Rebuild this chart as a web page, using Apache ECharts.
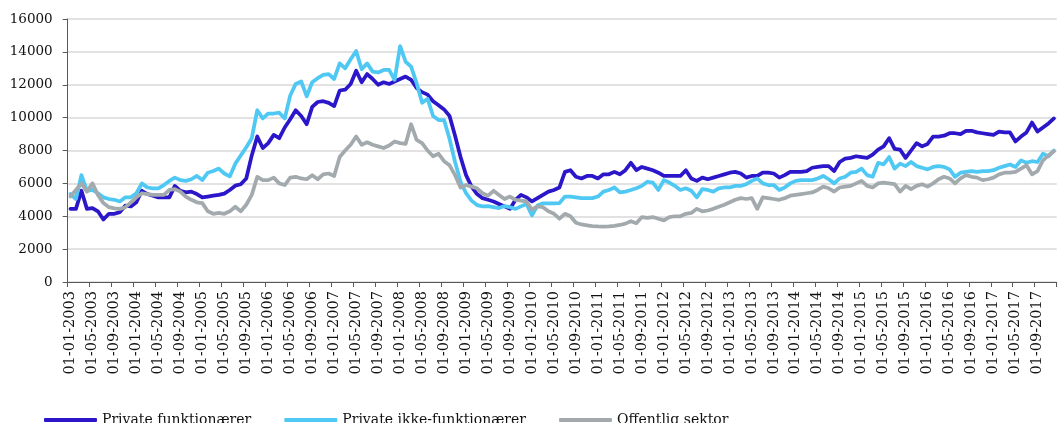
<!DOCTYPE html>
<html><head><meta charset="utf-8">
<script src="https://cdn.jsdelivr.net/npm/echarts@6/dist/echarts.min.js"></script>
<style>html,body{margin:0;padding:0;background:#fff}#c{width:1058px;height:423px}</style>
</head><body><div id="c"></div>
<script>
// Monthly categories 01-01-2003 .. 01-12-2017
const startYear = 2003, monthCount = 180;
const categories = [];
for (let k = 0; k < monthCount; k++) {
  const m = k % 12 + 1, y = startYear + Math.floor(k / 12);
  categories.push('01-' + String(m).padStart(2, '0') + '-' + y);
}
const seriesNames = ['Private funktionærer', 'Private ikke-funktionærer', 'Offentlig sektor'];
const yTicks = [0, 2000, 4000, 6000, 8000, 10000, 12000, 14000, 16000];

const privateFunktionaerer = [
  4450,4450,5550,4450,4500,4300,3800,4150,4150,4250,4650,4600,
  4850,5550,5350,5250,5150,5150,5150,5850,5550,5450,5500,5350,
  5150,5200,5250,5300,5380,5600,5860,5950,6300,7700,8850,8150,
  8450,8950,8750,9400,9900,10450,10100,9600,10650,10950,11000,10900,
  10700,11650,11700,12050,12850,12150,12650,12350,12000,12150,12050,12200,
  12350,12500,12300,11800,11550,11400,11000,10750,10500,10100,8900,7600,
  6500,5800,5350,5100,5000,4900,4750,4600,4450,5000,5300,5150,
  4900,5100,5300,5500,5600,5750,6700,6800,6400,6300,6450,6450,
  6300,6550,6550,6700,6550,6800,7250,6800,7000,6900,6800,6650,
  6450,6450,6450,6450,6800,6300,6150,6350,6250,6350,6450,6550,
  6650,6700,6600,6350,6450,6450,6650,6650,6600,6350,6500,6700,
  6700,6700,6750,6950,7000,7050,7050,6750,7300,7500,7550,7650,
  7600,7550,7750,8050,8250,8750,8100,8050,7550,8000,8450,8250,
  8400,8850,8850,8900,9050,9050,9000,9200,9200,9100,9050,9000,
  8950,9150,9100,9100,8550,8850,9100,9700,9150,9400,9650,9950
];
const privateIkkeFunktionaerer = [
  5350,5050,6500,5550,5600,5400,5150,5050,5000,4900,5150,5150,
  5400,6000,5750,5700,5700,5900,6150,6350,6200,6150,6250,6450,
  6200,6650,6750,6900,6600,6420,7200,7700,8200,8750,10450,9950,
  10250,10250,10300,9950,11350,12050,12200,11300,12150,12400,12600,12650,
  12350,13300,13000,13550,14050,12950,13300,12800,12750,12900,12900,12300,
  14350,13400,13100,12100,10900,11150,10100,9850,9850,8700,7300,6100,
  5400,4950,4680,4600,4620,4550,4500,4620,4550,4450,4600,4750,
  4050,4650,4790,4790,4780,4800,5200,5200,5150,5100,5100,5100,
  5200,5500,5600,5750,5450,5500,5600,5700,5850,6100,6050,5600,
  6200,6050,5850,5600,5700,5550,5150,5650,5600,5500,5700,5750,
  5750,5850,5850,5950,6150,6300,6000,5900,5900,5600,5750,6000,
  6150,6200,6200,6200,6300,6450,6250,6000,6300,6400,6650,6700,
  6900,6500,6400,7250,7150,7600,6900,7200,7050,7300,7050,6950,
  6850,7000,7050,7000,6850,6400,6650,6700,6750,6700,6750,6750,
  6800,6950,7050,7150,7000,7400,7250,7350,7300,7800,7650,8000
];
const offentligSektor = [
  5200,5600,6000,5500,6000,5300,4800,4550,4480,4450,4550,4850,
  5150,5400,5350,5300,5300,5300,5600,5650,5500,5200,5000,4850,
  4800,4300,4150,4200,4150,4300,4580,4300,4700,5300,6400,6200,
  6200,6350,6000,5900,6350,6400,6300,6250,6500,6250,6550,6600,
  6450,7600,8000,8350,8850,8350,8500,8350,8250,8150,8300,8550,
  8450,8400,9600,8650,8450,8000,7650,7800,7350,7100,6500,5750,
  5900,5800,5700,5400,5250,5550,5300,5050,5200,5000,4950,4900,
  4400,4600,4550,4300,4150,3850,4150,4000,3600,3500,3450,3400,
  3380,3370,3380,3420,3470,3550,3700,3580,3950,3900,3950,3850,
  3750,3950,4000,4000,4150,4200,4450,4300,4350,4450,4580,4700,
  4850,5000,5100,5050,5100,4450,5150,5100,5050,5000,5100,5250,
  5300,5350,5400,5450,5600,5800,5700,5500,5750,5800,5850,6000,
  6150,5850,5750,6000,6050,6000,5950,5500,5850,5650,5850,5950,
  5800,6000,6250,6400,6300,6000,6300,6500,6400,6350,6200,6250,
  6350,6550,6650,6650,6700,6900,7100,6550,6750,7400,7700,7950
];
const colors = ['#2B16C9', '#4FC8F4', '#A3AAAE'];
const FONT = 'DejaVu Serif';

const chart = echarts.init(document.getElementById('c'), null, {renderer: 'canvas'});
const seriesData = [privateFunktionaerer, privateIkkeFunktionaerer, offentligSektor];
chart.setOption({
  animation: false,
  backgroundColor: '#fff',
  grid: {left: 67.7, right: 1.3, top: 19, bottom: 141, containLabel: false},
  legend: {
    left: 39, top: 408, itemGap: 33, itemWidth: 53, itemHeight: 4, itemTextGap: 5,
    icon: 'roundRect',
    textStyle: {fontFamily: FONT, fontSize: 14, color: '#111'},
    data: seriesNames
  },
  xAxis: {
    type: 'category', data: categories, boundaryGap: true,
    axisLine: {lineStyle: {color: '#595959', width: 1}},
    axisTick: {show: true, interval: 3, length: 5, lineStyle: {color: '#595959'}},
    axisLabel: {interval: 3, rotate: 90, margin: 9, fontFamily: FONT, fontSize: 14.5, color: '#111'},
    splitLine: {show: false}
  },
  yAxis: {
    type: 'value', min: yTicks[0], max: yTicks[yTicks.length - 1], interval: 2000,
    axisLine: {show: true, lineStyle: {color: '#595959', width: 1}},
    axisTick: {show: true, length: 5, lineStyle: {color: '#595959'}},
    axisLabel: {margin: 15, fontFamily: FONT, fontSize: 13.5, color: '#111', formatter: v => String(v)},
    splitLine: {lineStyle: {color: '#d9d9d9', width: 1.5}}
  },
  series: seriesNames.map((n, k) => ({
    name: n, type: 'line', data: seriesData[k], showSymbol: false, symbol: 'none',
    color: colors[k],
    lineStyle: {color: colors[k], width: 3.75, join: 'round', cap: 'round'}
  }))
});
</script></body></html>
